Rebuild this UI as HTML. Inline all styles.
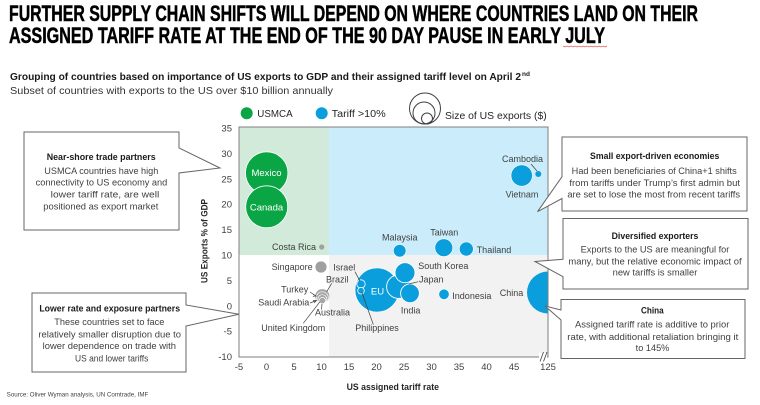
<!DOCTYPE html>
<html>
<head>
<meta charset="utf-8">
<style>
  html,body{margin:0;padding:0;background:#fff;}
  svg{display:block;}
  .t{font-family:"Liberation Sans",sans-serif;}
</style>
</head>
<body>
<svg width="760" height="405" viewBox="0 0 760 405" xmlns="http://www.w3.org/2000/svg">
  <defs>
    <clipPath id="plotclip"><rect x="239" y="127" width="309" height="230"/></clipPath>
  </defs>

  <!-- Title -->
  <g font-family="'Liberation Sans Narrow','Liberation Sans',sans-serif" font-weight="bold" font-size="22" fill="#000" stroke="#000" stroke-width="0.5">
    <text x="9" y="21" textLength="689" lengthAdjust="spacingAndGlyphs">FURTHER SUPPLY CHAIN SHIFTS WILL DEPEND ON WHERE COUNTRIES LAND ON THEIR</text>
    <text x="9" y="43" textLength="596" lengthAdjust="spacingAndGlyphs">ASSIGNED TARIFF RATE AT THE END OF THE 90 DAY PAUSE IN EARLY JULY</text>
  </g>
  <polyline points="563,46 565,47 567,46 569,47 571,46 573,47 575,46 577,47 579,46 581,47 583,46 585,47 587,46 589,47 591,46 593,47 595,46 597,47 599,46 601,47 603,46 605,47 607,46" fill="none" stroke="#e35b5b" stroke-width="0.7"/>

  <!-- Subtitle -->
  <g class="t" fill="#1a1a1a">
    <text x="10" y="80" font-size="10.5" font-weight="bold" textLength="511" lengthAdjust="spacingAndGlyphs">Grouping of countries based on importance of US exports to GDP and their assigned tariff level on April 2</text>
    <text x="522" y="76" font-size="6.5" font-weight="bold">nd</text>
    <text x="10" y="94" font-size="10.5" fill="#333" textLength="323" lengthAdjust="spacingAndGlyphs">Subset of countries with exports to the US over $10 billion annually</text>
  </g>

  <!-- Legend -->
  <circle cx="246.7" cy="113.3" r="6" fill="#0aa544"/>
  <text class="t" x="257.3" y="117" font-size="10" fill="#262626" textLength="35.3" lengthAdjust="spacingAndGlyphs">USMCA</text>
  <circle cx="321.7" cy="113.3" r="6" fill="#0a9edc"/>
  <text class="t" x="331.7" y="117" font-size="10" fill="#262626" textLength="54" lengthAdjust="spacingAndGlyphs">Tariff &gt;10%</text>
  <circle cx="425" cy="108.5" r="15.5" fill="none" stroke="#404040" stroke-width="1"/>
  <circle cx="424" cy="113" r="11" fill="none" stroke="#404040" stroke-width="1"/>
  <circle cx="427" cy="118.5" r="5.5" fill="none" stroke="#404040" stroke-width="1"/>
  <text class="t" x="445" y="119" font-size="10" fill="#262626" textLength="101.7" lengthAdjust="spacingAndGlyphs">Size of US exports ($)</text>

  <!-- Plot zones -->
  <rect x="239" y="127" width="90" height="128" fill="#d2ead9"/>
  <rect x="329" y="127" width="219" height="128" fill="#cbedfb"/>
  <rect x="239" y="255" width="90" height="102" fill="#ffffff"/>
  <rect x="329" y="255" width="219" height="102" fill="#f2f2f2"/>

  <!-- Bubbles -->
  <g clip-path="url(#plotclip)">
    <!-- USMCA -->
    <circle cx="266.7" cy="173" r="21.2" fill="#0aa544" stroke="#fff" stroke-width="0.8"/>
    <circle cx="266.7" cy="206.8" r="21" fill="#0aa544" stroke="#fff" stroke-width="0.8"/>
    <!-- grey -->
    <circle cx="321.7" cy="247" r="2.6" fill="#a0a0a0"/>
    <circle cx="321" cy="267" r="5.6" fill="#a0a0a0"/>
    <circle cx="322.3" cy="296.3" r="7.5" fill="#a6a6a6" stroke="#fff" stroke-width="0.7"/>
    <circle cx="322.3" cy="297.8" r="6" fill="#a6a6a6" stroke="#fff" stroke-width="0.7"/>
    <circle cx="322.3" cy="299.2" r="4.5" fill="#a6a6a6" stroke="#fff" stroke-width="0.7"/>
    <circle cx="322.3" cy="300.6" r="3.2" fill="#a6a6a6" stroke="#fff" stroke-width="0.7"/>
    <!-- Blue top -->
    <circle cx="521.7" cy="175.5" r="10.7" fill="#0a9edc" stroke="#fff" stroke-width="0.6"/>
    <circle cx="538.3" cy="174" r="3" fill="#0a9edc"/>
    <circle cx="399.7" cy="250.7" r="6.3" fill="#0a9edc" stroke="#fff" stroke-width="0.6"/>
    <circle cx="443.8" cy="247.7" r="8.9" fill="#0a9edc" stroke="#fff" stroke-width="0.6"/>
    <circle cx="466.3" cy="249" r="7" fill="#0a9edc" stroke="#fff" stroke-width="0.6"/>
    <!-- Blue bottom -->
    <circle cx="377" cy="290" r="22" fill="#0a9edc" stroke="#fff" stroke-width="0.6"/>
    <circle cx="398.3" cy="286.7" r="11.7" fill="#0a9edc" stroke="#fff" stroke-width="0.9"/>
    <circle cx="405" cy="272.7" r="10" fill="#0a9edc" stroke="#fff" stroke-width="0.9"/>
    <circle cx="410" cy="293.3" r="9.4" fill="#0a9edc" stroke="#fff" stroke-width="0.9"/>
    <circle cx="361" cy="284" r="4.2" fill="#0a9edc" stroke="#fff" stroke-width="0.8"/>
    <circle cx="361" cy="290.7" r="3.3" fill="#0a9edc" stroke="#fff" stroke-width="0.8"/>
    <circle cx="444" cy="294.3" r="5.2" fill="#0a9edc" stroke="#fff" stroke-width="0.6"/>
    <circle cx="548" cy="292.5" r="21" fill="#0a9edc"/>
  </g>

  <!-- Plot frame -->
  <rect x="239" y="127" width="309" height="230" fill="none" stroke="#7f7f7f" stroke-width="1"/>
  <!-- axis break -->
  <rect x="539" y="353" width="8" height="8" fill="#fff"/>
  <line x1="540" y1="361.5" x2="543.5" y2="352" stroke="#404040" stroke-width="0.8"/>
  <line x1="543.5" y1="361.5" x2="547" y2="352" stroke="#404040" stroke-width="0.8"/>

  <!-- Leader lines -->
  <g stroke="#404040" stroke-width="0.7" fill="none">
    <line x1="531" y1="164" x2="537" y2="171"/>
    <line x1="331.7" y1="283.3" x2="326.7" y2="291.7"/>
    <line x1="310" y1="292" x2="316" y2="296"/>
    <polyline points="313,294.2 316,296 312.8,296.3"/>
    <line x1="310" y1="303" x2="316.5" y2="300.5"/>
    <polyline points="313,300.5 316.5,300.5 314,303"/>
    <line x1="321.5" y1="309.5" x2="322" y2="304"/>
    <line x1="303.3" y1="323.3" x2="320" y2="301.7"/>
    <line x1="355" y1="271.7" x2="360" y2="281.2"/>
    <line x1="361.7" y1="292" x2="373.3" y2="324.5"/>
    <line x1="409" y1="284" x2="418.3" y2="281.7"/>
  </g>

  <!-- Point labels -->
  <g class="t" font-size="9" fill="#404040">
    <text x="266.5" y="176" fill="#fff" text-anchor="middle" font-size="9.5">Mexico</text>
    <text x="266.5" y="210.5" fill="#fff" text-anchor="middle" font-size="9.5">Canada</text>
    <text x="316" y="250" text-anchor="end">Costa Rica</text>
    <text x="522.5" y="162" text-anchor="middle">Cambodia</text>
    <text x="522" y="197.5" text-anchor="middle">Vietnam</text>
    <text x="399.8" y="240.5" text-anchor="middle">Malaysia</text>
    <text x="444.3" y="235.5" text-anchor="middle">Taiwan</text>
    <text x="476.7" y="253">Thailand</text>
    <text x="312.7" y="270" text-anchor="end">Singapore</text>
    <text x="333.3" y="270.5">Israel</text>
    <text x="418.3" y="269">South Korea</text>
    <text x="326" y="282.5">Brazil</text>
    <text x="419" y="282.5">Japan</text>
    <text x="377.5" y="294.5" fill="#fff" text-anchor="middle" font-size="9.5">EU</text>
    <text x="308.3" y="292.5" text-anchor="end">Turkey</text>
    <text x="523.3" y="296" text-anchor="end">China</text>
    <text x="452.3" y="299">Indonesia</text>
    <text x="309.3" y="305.5" text-anchor="end">Saudi Arabia</text>
    <text x="315" y="315.5">Australia</text>
    <text x="410.7" y="313.5" text-anchor="middle">India</text>
    <text x="293.3" y="331" text-anchor="middle">United Kingdom</text>
    <text x="377" y="331" text-anchor="middle">Philippines</text>
  </g>

  <!-- Y ticks -->
  <g class="t" font-size="9.5" fill="#404040" text-anchor="end">
    <text x="232" y="131.5">35</text>
    <text x="232" y="156.9">30</text>
    <text x="232" y="182.3">25</text>
    <text x="232" y="207.7">20</text>
    <text x="232" y="233.1">15</text>
    <text x="232" y="258.5">10</text>
    <text x="232" y="283.9">5</text>
    <text x="232" y="309.3">0</text>
    <text x="232" y="334.7">-5</text>
    <text x="232" y="360.1">-10</text>
  </g>
  <!-- X ticks -->
  <g class="t" font-size="9.5" fill="#404040" text-anchor="middle">
    <text x="239" y="370">-5</text>
    <text x="266.5" y="370">0</text>
    <text x="294" y="370">5</text>
    <text x="321.5" y="370">10</text>
    <text x="349" y="370">15</text>
    <text x="376.5" y="370">20</text>
    <text x="404" y="370">25</text>
    <text x="431.5" y="370">30</text>
    <text x="459" y="370">35</text>
    <text x="486.5" y="370">40</text>
    <text x="514" y="370">45</text>
    <text x="548" y="370">125</text>
  </g>
  <text class="t" x="392.8" y="390" font-size="9.5" font-weight="bold" fill="#262626" text-anchor="middle" textLength="92.3" lengthAdjust="spacingAndGlyphs">US assigned tariff rate</text>
  <text class="t" transform="translate(207.5,241) rotate(-90)" x="0" y="0" font-size="9.5" font-weight="bold" fill="#262626" text-anchor="middle" textLength="84" lengthAdjust="spacingAndGlyphs">US Exports % of GDP</text>

  <!-- Callout boxes -->
  <g fill="#fff" stroke="#666" stroke-width="1">
    <path d="M24,132 H179 V148 L220,168 L179,173 V230 H24 Z"/>
    <path d="M32,293 H186 V305 L239,314.3 L186,326 V372 H32 Z"/>
    <path d="M562,137 H747 V211 H562 V198.5 L537.5,211.7 L562,176.7 Z"/>
    <path d="M563,218.5 H748 V289 H563 V276.7 L535,261.5 L563,259.3 Z"/>
    <path d="M561,299.5 H745 V358.5 H561 V320 L545,306 L561,310 Z"/>
  </g>

  <g class="t" font-size="9" fill="#404040" text-anchor="middle" lengthAdjust="spacingAndGlyphs">
    <!-- Box 1 -->
    <text x="101.2" y="160" font-weight="bold" fill="#1a1a1a" textLength="109" lengthAdjust="spacingAndGlyphs">Near-shore trade partners</text>
    <text x="101.3" y="174" textLength="114" lengthAdjust="spacingAndGlyphs">USMCA countries have high</text>
    <text x="101.5" y="185.5" textLength="131.6" lengthAdjust="spacingAndGlyphs">connectivity to US economy and</text>
    <text x="105" y="197.5" textLength="108.6" lengthAdjust="spacingAndGlyphs">lower tariff rate, are well</text>
    <text x="100.8" y="209.5" textLength="115" lengthAdjust="spacingAndGlyphs">positioned as export market</text>
    <!-- Box 2 -->
    <text x="109.7" y="311.5" font-weight="bold" fill="#1a1a1a" textLength="140.7" lengthAdjust="spacingAndGlyphs">Lower rate and exposure partners</text>
    <text x="109.3" y="325" textLength="110" lengthAdjust="spacingAndGlyphs">These countries set to face</text>
    <text x="109.7" y="337.3" textLength="142.7" lengthAdjust="spacingAndGlyphs">relatively smaller disruption due to</text>
    <text x="109.3" y="349" textLength="133.3" lengthAdjust="spacingAndGlyphs">lower dependence on trade with</text>
    <text x="111.7" y="361.5" textLength="73.3" lengthAdjust="spacingAndGlyphs">US and lower tariffs</text>
    <!-- Box A -->
    <text x="654.7" y="158.8" font-weight="bold" fill="#1a1a1a" textLength="129.3" lengthAdjust="spacingAndGlyphs">Small export-driven economies</text>
    <text x="654.2" y="174" textLength="165" lengthAdjust="spacingAndGlyphs">Had been beneficiaries of China+1 shifts</text>
    <text x="654.7" y="186" textLength="170.7" lengthAdjust="spacingAndGlyphs">from tariffs under Trump’s first admin but</text>
    <text x="653.7" y="197.3" textLength="172.7" lengthAdjust="spacingAndGlyphs">are set to lose the most from recent tariffs</text>
    <!-- Box B -->
    <text x="655" y="238.8" font-weight="bold" fill="#1a1a1a" textLength="86.7" lengthAdjust="spacingAndGlyphs">Diversified exporters</text>
    <text x="655" y="252.3" textLength="148.7" lengthAdjust="spacingAndGlyphs">Exports to the US are meaningful for</text>
    <text x="655" y="264.3" textLength="173.3" lengthAdjust="spacingAndGlyphs">many, but the relative economic impact of</text>
    <text x="655" y="275.3" textLength="84.7" lengthAdjust="spacingAndGlyphs">new tariffs is smaller</text>
    <!-- Box C -->
    <text x="652.3" y="313.3" font-weight="bold" fill="#1a1a1a" textLength="22.7" lengthAdjust="spacingAndGlyphs">China</text>
    <text x="652.2" y="327.5" textLength="154.3" lengthAdjust="spacingAndGlyphs">Assigned tariff rate is additive to prior</text>
    <text x="652.8" y="339.8" textLength="171" lengthAdjust="spacingAndGlyphs">rate, with additional retaliation bringing it</text>
    <text x="652.5" y="350.8" textLength="33.7" lengthAdjust="spacingAndGlyphs">to 145%</text>
  </g>

  <!-- Source -->
  <text class="t" x="6.7" y="396.5" font-size="6" fill="#404040" textLength="141.6" lengthAdjust="spacingAndGlyphs">Source: Oliver Wyman analysis, UN Comtrade, IMF</text>
</svg>
</body>
</html>
